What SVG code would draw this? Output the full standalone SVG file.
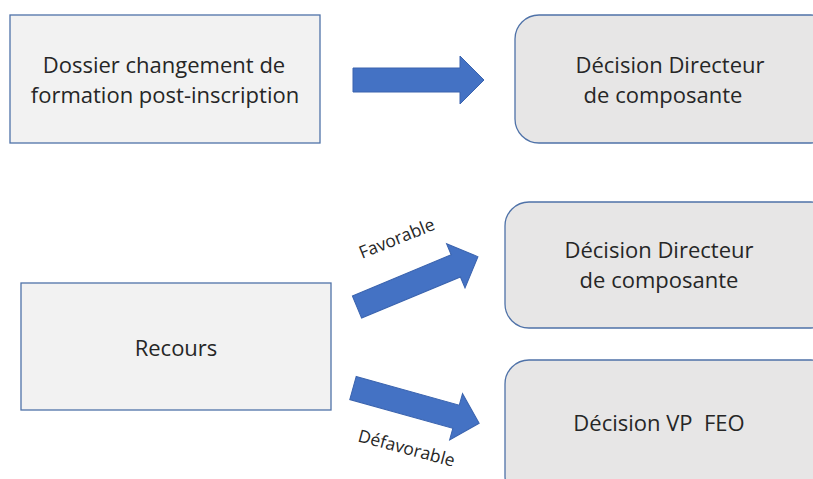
<svg xmlns="http://www.w3.org/2000/svg" width="813" height="479" viewBox="0 0 813 479">
<defs>
<style>
.sq{fill:#f2f2f2;stroke:#4f72a8;stroke-width:1.3}
.rd{fill:#e7e6e6;stroke:#4f72a8;stroke-width:1.3}
.t{font-family:"Open Sans","Liberation Sans",sans-serif;font-size:22px;fill:#262626;text-anchor:middle;white-space:pre}
.lb{font-family:"Open Sans","Liberation Sans",sans-serif;font-size:17.5px;fill:#262626;text-anchor:middle}
.ar{fill:#4472c4;stroke:#3a63ae;stroke-width:1}
</style>
<path id="arr" d="M0,-12 L107,-12 L107,-24 L131,0 L107,24 L107,12 L0,12 Z"/>
</defs>
<rect width="813" height="479" fill="#ffffff"/>
<g id="connectors">
<use href="#arr" class="ar" transform="translate(353,80)"/>
<use href="#arr" class="ar" transform="translate(357,307) rotate(-22.6)"/>
<use href="#arr" class="ar" transform="translate(353,388) rotate(15.6)"/>
<text class="lb" transform="translate(399,244) rotate(-22)">Favorable</text>
<text class="lb" transform="translate(405,454) rotate(15)">Défavorable</text>
</g>
<g id="dossier">
<rect class="sq" x="10" y="15" width="310" height="128"/>
<text class="t" x="164" y="73">Dossier changement de</text>
<text class="t" x="165" y="103">formation post-inscription</text>
</g>
<g id="decision1">
<rect class="rd" x="515" y="15" width="320" height="128" rx="24"/>
<text class="t" x="670" y="73">Décision Directeur</text>
<text class="t" x="663" y="103">de composante</text>
</g>
<g id="recours">
<rect class="sq" x="21" y="283" width="310" height="127"/>
<text class="t" x="176" y="356">Recours</text>
</g>
<g id="decision2">
<rect class="rd" x="505" y="202" width="330" height="126" rx="24"/>
<text class="t" x="659" y="258">Décision Directeur</text>
<text class="t" x="659" y="288">de composante</text>
</g>
<g id="decision3">
<rect class="rd" x="505" y="360" width="330" height="140" rx="24"/>
<text class="t" x="659" y="431">Décision VP  FEO</text>
</g>
</svg>
